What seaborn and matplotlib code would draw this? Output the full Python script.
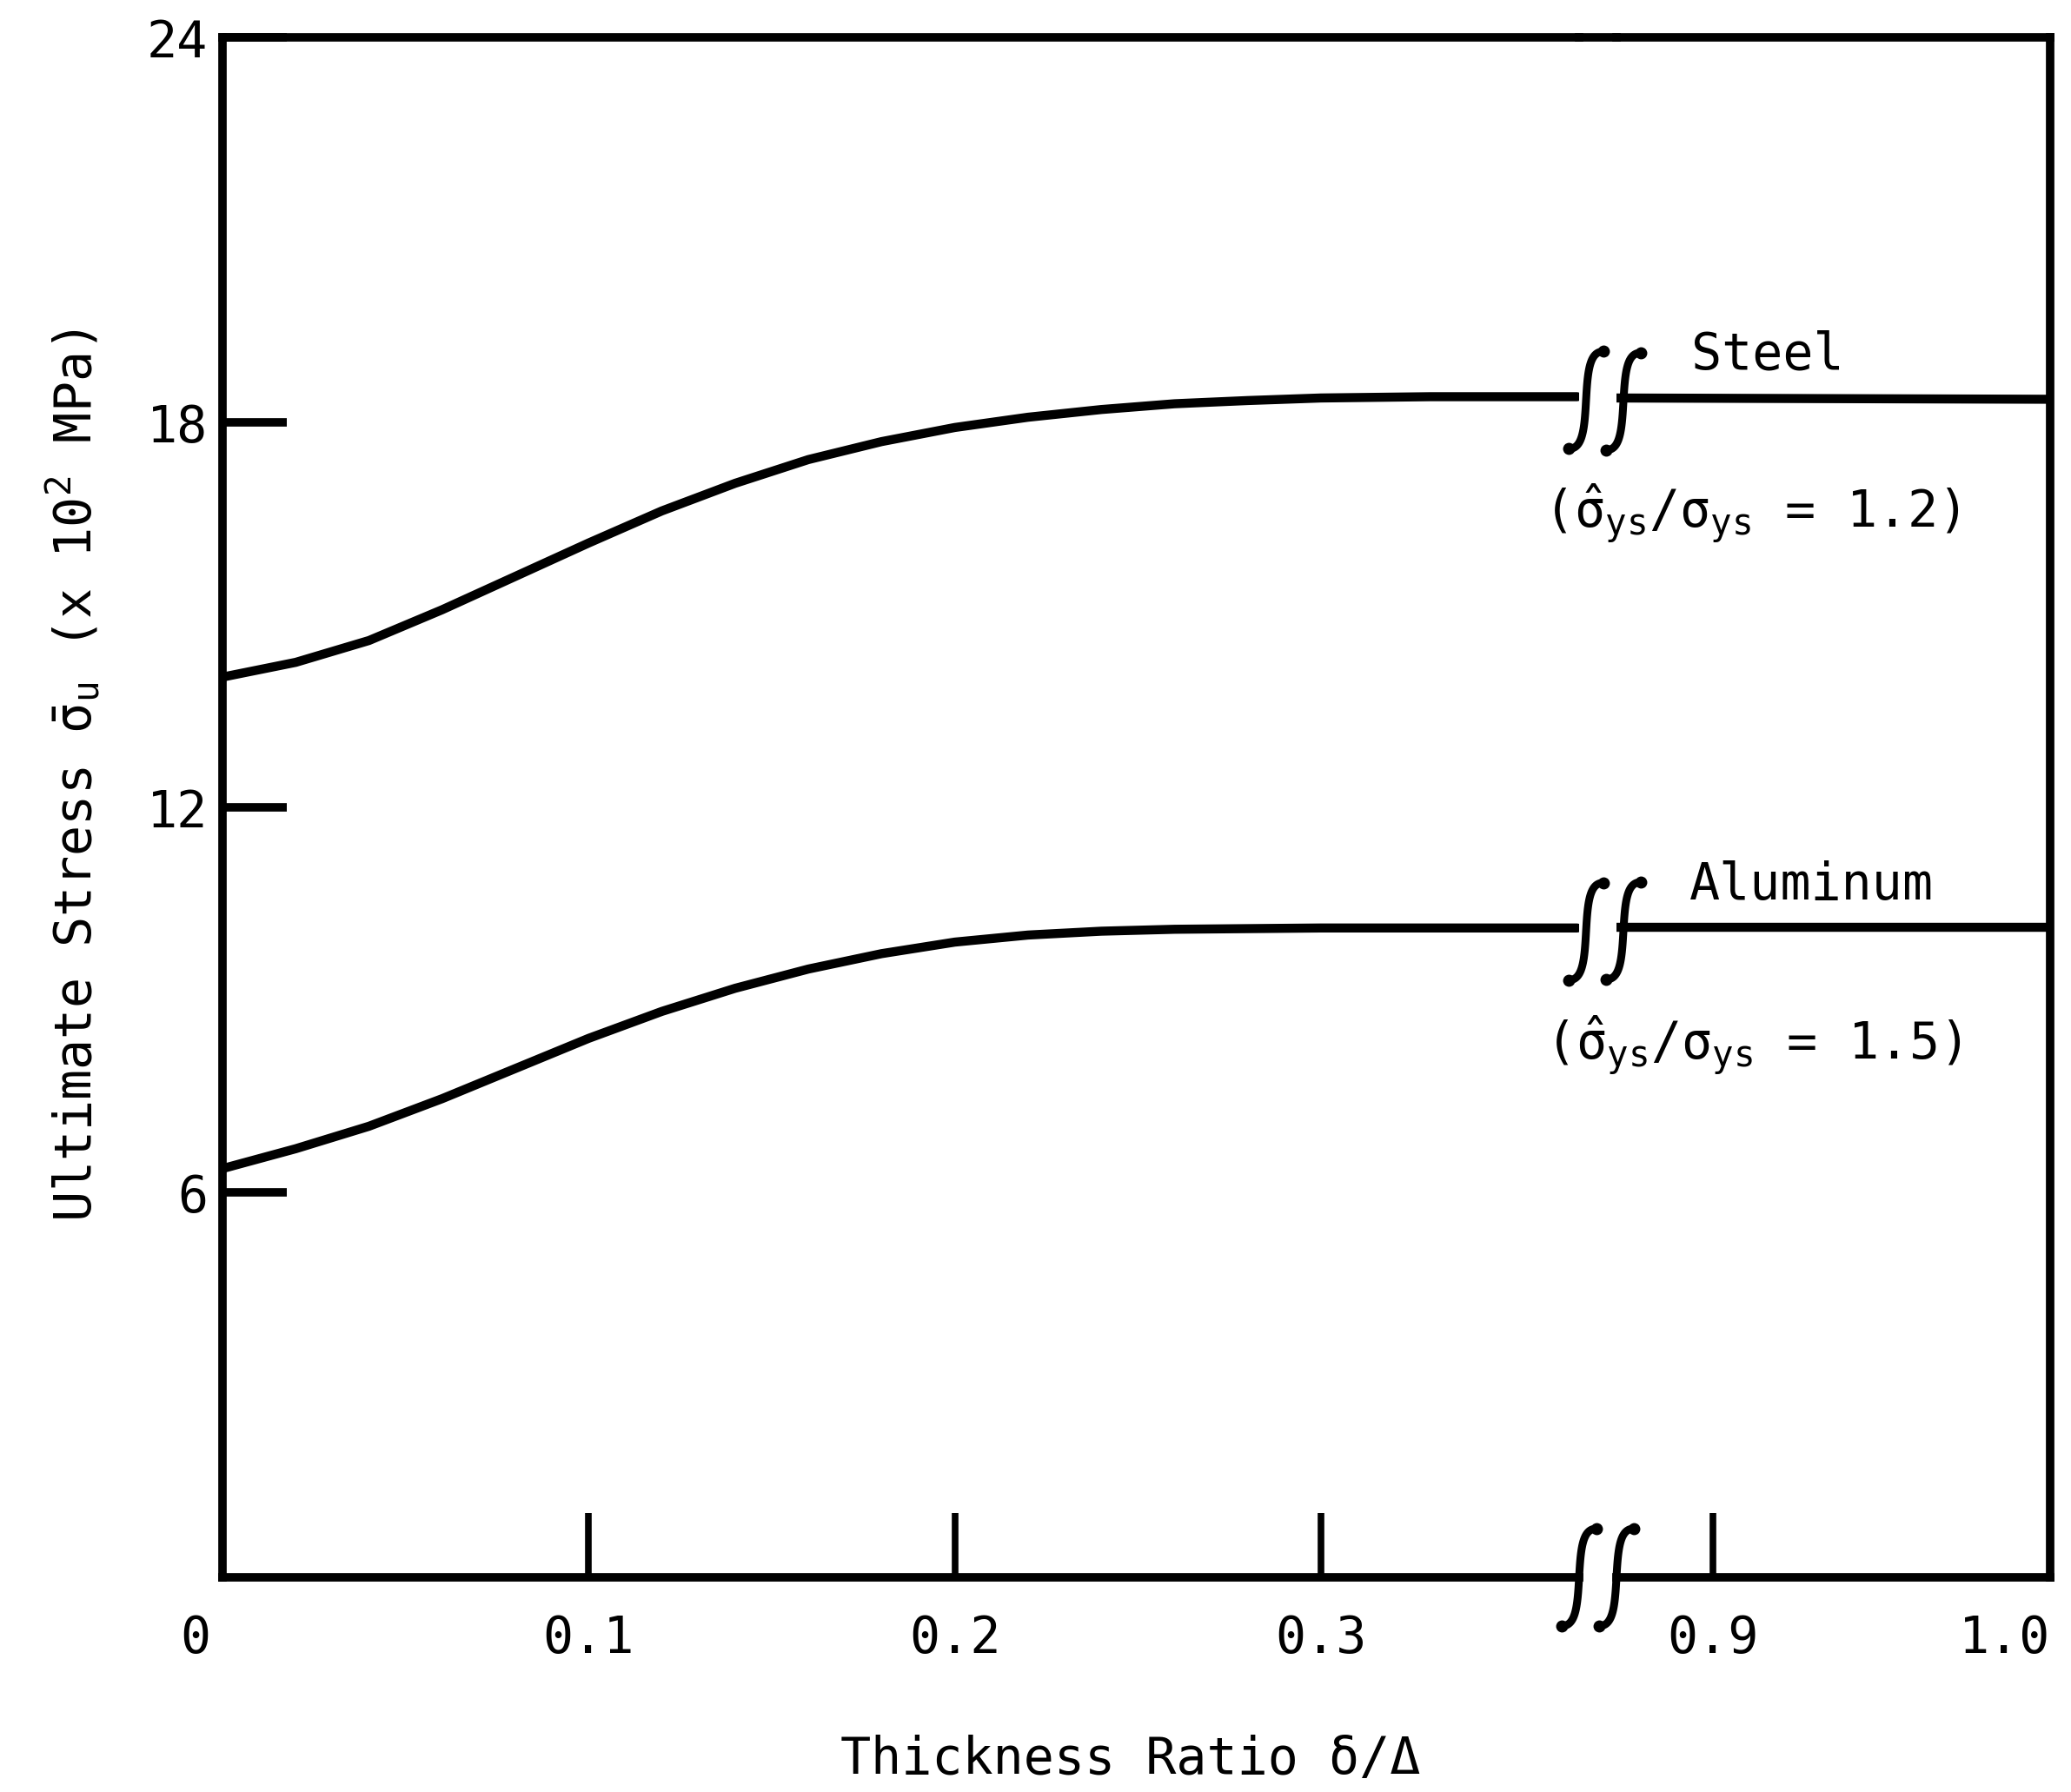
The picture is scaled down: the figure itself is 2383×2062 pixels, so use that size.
import numpy as np
import pandas as pd
import matplotlib
matplotlib.use("Agg")
import matplotlib.pyplot as plt
import matplotlib.transforms as mtransforms
from matplotlib.lines import Line2D
import seaborn as sns

# ---- data -------------------------------------------------------------
# thickness ratio delta/Delta on the two parts of the broken x axis
ratio_left = [0.00, 0.02, 0.04, 0.06, 0.08, 0.10, 0.12, 0.14, 0.16, 0.18,
              0.20, 0.22, 0.24, 0.26, 0.28, 0.30, 0.33, 0.37]
ratio_right = [0.87, 1.00]

# ultimate stress (x 10^2 MPa)
steel_left = [14.03, 14.26, 14.60, 15.08, 15.60, 16.12, 16.62, 17.05, 17.42,
              17.70, 17.92, 18.08, 18.20, 18.29, 18.34, 18.38, 18.40, 18.40]
steel_right = [18.38, 18.36]
aluminum_left = [6.37, 6.68, 7.03, 7.46, 7.93, 8.40, 8.82, 9.18, 9.48,
                 9.72, 9.90, 10.01, 10.07, 10.10, 10.11, 10.12, 10.12, 10.12]
aluminum_right = [10.13, 10.13]

y_ticks = [6, 12, 18, 24]
y_tick_labels = ["6", "12", "18", "24"]
x_ticks_left = [0.0, 0.1, 0.2, 0.3]
x_labels_left = ["0", "0.1", "0.2", "0.3"]
x_ticks_right = [0.9, 1.0]
x_labels_right = ["0.9", "1.0"]

materials = ["Steel", "Aluminum"]
ratio_notes = [r"($\hat{\sigma}_{ys}$/$\sigma_{ys}$ = 1.2)",
               r"($\hat{\sigma}_{ys}$/$\sigma_{ys}$ = 1.5)"]

# ---- style ------------------------------------------------------------
sns.set_theme(style="white")
plt.rcParams["font.family"] = ["DejaVu Sans Mono", "DejaVu Sans"]
plt.rcParams["text.color"] = "black"
plt.rcParams["axes.labelcolor"] = "black"
plt.rcParams["xtick.color"] = "black"
plt.rcParams["ytick.color"] = "black"
plt.rcParams["mathtext.fontset"] = "custom"
plt.rcParams["mathtext.rm"] = "DejaVu Sans Mono"
plt.rcParams["mathtext.it"] = "DejaVu Sans Mono"
plt.rcParams["mathtext.bf"] = "DejaVu Sans Mono:bold"
plt.rcParams["mathtext.sf"] = "DejaVu Sans Mono"

FS = 42
LW_AX = 7.0
LW_CURVE = 7.5
W, H = 2383, 2062
DPI = 100

fig = plt.figure(figsize=(W / DPI, H / DPI), dpi=DPI, facecolor="white")

top_px, bot_px = 43, 1815
left_x0, left_x1 = 256, 1817
right_x0, right_x1 = 1860, 2359

axL = fig.add_axes([left_x0 / W, 1 - bot_px / H, (left_x1 - left_x0) / W, (bot_px - top_px) / H])
axR = fig.add_axes([right_x0 / W, 1 - bot_px / H, (right_x1 - right_x0) / W, (bot_px - top_px) / H])

n = len(ratio_left)
df_left = pd.DataFrame({
    "ratio": ratio_left * 2,
    "stress": steel_left + aluminum_left,
    "material": [materials[0]] * n + [materials[1]] * n,
})
m = len(ratio_right)
df_right = pd.DataFrame({
    "ratio": ratio_right * 2,
    "stress": steel_right + aluminum_right,
    "material": [materials[0]] * m + [materials[1]] * m,
})
pal = {materials[0]: "black", materials[1]: "black"}

for ax, df in ((axL, df_left), (axR, df_right)):
    sns.lineplot(data=df, x="ratio", y="stress", hue="material", palette=pal,
                 estimator=None, sort=True, lw=LW_CURVE, legend=False, ax=ax,
                 solid_joinstyle="round")
    ax.set_ylim(0, 24)
    ax.set_xlabel("")
    ax.set_ylabel("")
    ax.set_facecolor("white")
    for s in ax.spines.values():
        s.set_linewidth(LW_AX)
        s.set_color("black")

axL.set_xlim(0, 0.3705)
axR.set_xlim(0.8714, 1.0)
axL.spines["right"].set_visible(False)
axR.spines["left"].set_visible(False)

axL.set_yticks(y_ticks, y_tick_labels)
axL.set_xticks(x_ticks_left, x_labels_left)
axR.set_xticks(x_ticks_right, x_labels_right)
axR.set_yticks([])

axL.tick_params(axis="y", direction="in", length=53, width=7, labelsize=FS, pad=12,
                colors="black", left=True)
for ax in (axL, axR):
    ax.tick_params(axis="x", direction="in", length=53, width=5.5, labelsize=FS, pad=30,
                   colors="black", bottom=True)
axR.tick_params(axis="y", left=False, labelleft=False)

# "0" sits left of the corner, "1.0" ends at the right frame
lab0 = axL.get_xticklabels()[0]
lab0.set_ha("right")
lab0.set_transform(lab0.get_transform() +
                   mtransforms.ScaledTranslation(-14 / DPI, 0, fig.dpi_scale_trans))
axR.get_xticklabels()[-1].set_ha("right")

# top frame continues across the gap between the two panels
fig.add_artist(Line2D([left_x1 / W, right_x0 / W], [1 - top_px / H, 1 - top_px / H],
                      transform=fig.transFigure, color="black", lw=LW_AX,
                      solid_capstyle="projecting"))


def break_mark(xc, yc, h=112, w=40):
    """Integral-sign shaped break symbol centred on (xc, yc) in pixels."""
    t = np.linspace(-1, 1, 80)
    xs = xc + (w / 2) * (0.75 * t ** 3 + 0.25 * t)
    ys = yc + (h / 2) * np.sin(np.pi * t / 2)
    fig.add_artist(Line2D(xs, ys, transform=mtransforms.IdentityTransform(),
                          color="black", lw=6.5, solid_capstyle="round"))
    fig.add_artist(Line2D([xs[0], xs[-1]], [ys[0], ys[-1]],
                          transform=mtransforms.IdentityTransform(), ls="none",
                          marker="o", ms=9, color="black"))


# breaks on the x axis
y_axis_px = H - bot_px
break_mark(left_x1, y_axis_px)
break_mark(right_x0, y_axis_px)

# breaks on both curves
for yl, yr in ((steel_left[-1], steel_right[0]), (aluminum_left[-1], aluminum_right[0])):
    pl = axL.transData.transform((axL.get_xlim()[1], yl))
    pr = axR.transData.transform((axR.get_xlim()[0], yr))
    break_mark(pl[0] + 8, pl[1] - 4)
    break_mark(pr[0] + 8, pr[1] - 4)

# curve labels
fig.text(1946 / W, 1 - 425 / H, materials[0], fontsize=FS, ha="left", va="baseline")
fig.text(1776 / W, 1 - 607 / H, ratio_notes[0], fontsize=FS, ha="left", va="baseline")
fig.text(1944 / W, 1 - 1035 / H, materials[1], fontsize=FS, ha="left", va="baseline")
fig.text(1778 / W, 1 - 1219 / H, ratio_notes[1], fontsize=FS, ha="left", va="baseline")

# axis titles
fig.text(1301 / W, 1 - 2024 / H, "Thickness Ratio δ/Δ", fontsize=FS,
         ha="center", va="center")
fig.text(84 / W, 1 - 892 / H, r"Ultimate Stress $\bar{\sigma}_u$ (x 10$^2$ MPa)",
         fontsize=FS, rotation=90, ha="center", va="center")

fig.savefig("out.png", dpi=DPI, facecolor="white")
